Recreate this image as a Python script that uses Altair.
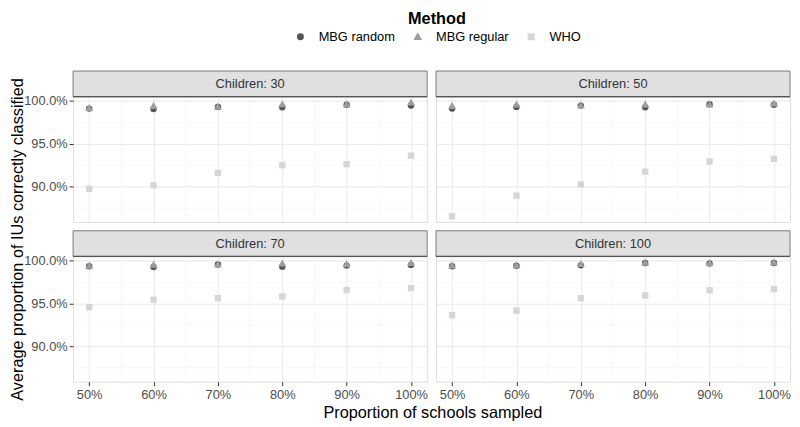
import altair as alt
import pandas as pd

# ---------------- data ----------------
methods = ["MBG random", "MBG regular", "WHO"]
children_levels = [30, 50, 70, 100]
proportions = [0.5, 0.6, 0.7, 0.8, 0.9, 1.0]

# average % of IUs correctly classified
mbg_random = {
    30: [99.10, 99.05, 99.30, 99.25, 99.55, 99.45],
    50: [99.10, 99.30, 99.45, 99.25, 99.62, 99.55],
    70: [99.35, 99.25, 99.55, 99.30, 99.42, 99.50],
    100: [99.35, 99.40, 99.45, 99.72, 99.68, 99.72],
}
mbg_regular = {
    30: [99.15, 99.40, 99.30, 99.60, 99.60, 99.80],
    50: [99.40, 99.55, 99.48, 99.55, 99.55, 99.68],
    70: [99.38, 99.50, 99.57, 99.65, 99.55, 99.72],
    100: [99.42, 99.45, 99.58, 99.76, 99.72, 99.78],
}
who = {
    30: [89.75, 90.15, 91.60, 92.50, 92.62, 93.62],
    50: [86.55, 88.95, 90.25, 91.75, 92.95, 93.25],
    70: [94.58, 95.45, 95.62, 95.82, 96.58, 96.80],
    100: [93.65, 94.18, 95.62, 95.95, 96.55, 96.68],
}

x_major = [0.5, 0.6, 0.7, 0.8, 0.9, 1.0]
x_minor = [0.55, 0.65, 0.75, 0.85, 0.95]
y_major = [0.90, 0.95, 1.00]
y_minor = [0.875, 0.925, 0.975]

x_domain = [0.475, 1.025]
y_domain = [0.8589, 1.0049]

colors = ["#555555", "#9e9e9e", "#d6d6d6"]
TRIANGLE = "M0,-1.3L1.25,0.9L-1.25,0.9Z"
shapes = ["circle", TRIANGLE, "square"]

rows = []
for n in children_levels:
    for m, src in zip(methods, [mbg_random, mbg_regular, who]):
        for p, v in zip(proportions, src[n]):
            rows.append({"children": n, "method": m, "prop": p, "value": v / 100})
df = pd.DataFrame(rows)

W = 359
H = 127
STRIP = 26
FONT = "Liberation Sans, Arial, Helvetica, sans-serif"

legend = alt.Legend(
    title="Method", orient="none", legendX=224, legendY=-87,
    direction="horizontal", titleAnchor="middle", titleFontSize=16.5,
    titleFontWeight="bold", titleColor="black", titleFont=FONT, titlePadding=3,
    labelFontSize=13, labelColor="black", labelFont=FONT, symbolSize=50,
    labelOffset=12, columnPadding=16, symbolStrokeWidth=0,
)


def panel(n, col, row):
    d = df[df["children"] == n]
    bottom = row == 1
    left = col == 0
    xkw = dict(values=x_major, format=".0%", grid=True, domain=False,
               labels=bottom, ticks=bottom, tickSize=4, tickColor="#333333",
               labelFontSize=13, labelColor="#4d4d4d", labelPadding=3, labelFont=FONT,
               gridColor="#ebebeb", gridWidth=1.1)
    ykw = dict(values=y_major, format=".1%", grid=True, domain=False,
               labels=left, ticks=left, tickSize=4, tickColor="#333333",
               labelFontSize=13, labelColor="#4d4d4d", labelPadding=2, labelFont=FONT,
               gridColor="#ebebeb", gridWidth=1.1)
    if bottom and left:
        xax = alt.Axis(title="Proportion of schools sampled", titleX=364.3, titleY=31,
                       titleAlign="center", titleBaseline="middle", titleFontSize=16.5,
                       titleFontWeight="normal", titleColor="black", titleFont=FONT, **xkw)
        yax = alt.Axis(title="Average proportion of IUs correctly classified",
                       titleX=-56.7, titleY=-17.7, titleAngle=270, titleAlign="center",
                       titleBaseline="middle", titleFontSize=16.5, titleFontWeight="normal",
                       titleColor="black", titleFont=FONT, **ykw)
    else:
        xax = alt.Axis(title=None, **xkw)
        yax = alt.Axis(title=None, **ykw)

    xs = alt.Scale(domain=x_domain, nice=False, zero=False)
    ys = alt.Scale(domain=y_domain, nice=False, zero=False)

    vminor = alt.Chart(pd.DataFrame({"prop": x_minor})).mark_rule(
        color="#f4f4f4", strokeWidth=0.7).encode(
        x=alt.X("prop:Q", scale=xs, axis=xax), y=alt.value(0), y2=alt.value(H))
    hminor = alt.Chart(pd.DataFrame({"value": y_minor})).mark_rule(
        color="#f4f4f4", strokeWidth=0.7).encode(
        y=alt.Y("value:Q", scale=ys, axis=yax), x=alt.value(0), x2=alt.value(W))

    pts = alt.Chart(d).mark_point(filled=True, opacity=1, size=42).encode(
        x=alt.X("prop:Q", scale=xs, axis=xax),
        y=alt.Y("value:Q", scale=ys, axis=yax),
        color=alt.Color("method:N", scale=alt.Scale(domain=methods, range=colors), legend=legend),
        shape=alt.Shape("method:N", scale=alt.Scale(domain=methods, range=shapes), legend=legend),
    )

    sd = pd.DataFrame({"label": [f"Children: {n}"]})
    strip = alt.Chart(sd).mark_rect(fill="#e0e0e0", stroke="#7a7a7a", strokeWidth=1).encode(
        x=alt.value(0), x2=alt.value(W), y=alt.value(-STRIP), y2=alt.value(0))
    strip_line = alt.Chart(sd).mark_rule(color="#555555", strokeWidth=1.4).encode(
        x=alt.value(0), x2=alt.value(W), y=alt.value(0))
    strip_text = alt.Chart(sd).mark_text(fontSize=13, color="#333333", font=FONT,
                                          fontWeight="normal",
                                          baseline="middle", align="center").encode(
        text="label:N", x=alt.value(W / 2), y=alt.value(-STRIP / 2))

    return alt.layer(vminor, hminor, pts, strip, strip_line, strip_text).properties(
        width=W, height=H)


panels = [panel(n, i % 2, i // 2) for i, n in enumerate(children_levels)]

chart = alt.concat(*panels, columns=2, spacing={"row": 35, "column": 9},
                   bounds="flush").properties(padding=0).configure_view(
    stroke="#7a7a7a", strokeWidth=1).configure(background="white")

chart.save("out.html", embed_options={"renderer": "svg", "actions": False})
